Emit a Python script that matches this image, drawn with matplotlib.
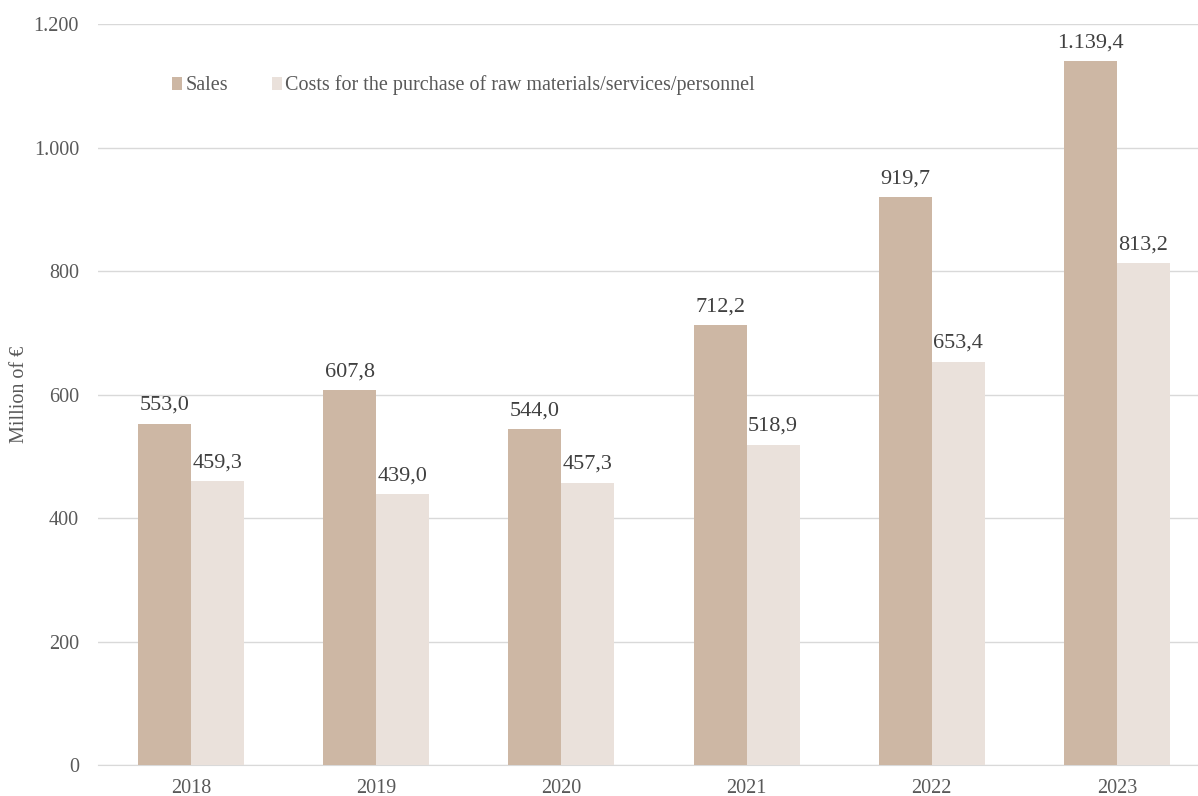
import matplotlib.pyplot as plt
import numpy as np

# dados (milhões de euros)
anos = ['2018', '2019', '2020', '2021', '2022', '2023']
vendas = [553.0, 607.8, 544.0, 712.2, 919.7, 1139.4]
custos = [459.3, 439.0, 457.3, 518.9, 653.4, 813.2]

cor_vendas = '#CDB7A4'
cor_custos = '#EAE1DB'
cor_texto = '#595959'

plt.rcParams['font.family'] = ['Liberation Serif', 'DejaVu Serif']

def fmt(v):
    # formato europeu: 1.139,4
    s = '{:,.1f}'.format(v)
    return s.replace(',', 'X').replace('.', ',').replace('X', '.')

fig = plt.figure(figsize=(11.98, 7.96), dpi=100)
ax = fig.add_axes([0.0822, 0.0389, 0.9274, 0.9309])

x = np.arange(len(anos))
w = 0.286
b1 = ax.bar(x - w / 2, vendas, w, color=cor_vendas, label='Sales', zorder=3)
b2 = ax.bar(x + w / 2, custos, w, color=cor_custos,
            label='Costs for the purchase of raw materials/services/personnel', zorder=3)

for barras, vals in ((b1, vendas), (b2, custos)):
    for b, v in zip(barras, vals):
        ax.text(b.get_x() + b.get_width() / 2, v + 14, fmt(v), ha='center', va='bottom',
                fontsize=16, color='#404040')

ax.set_xlim(-0.5, 5.5)
ax.set_ylim(0, 1200)
ax.set_yticks(range(0, 1201, 200))
ax.set_yticklabels([fmt(t)[:-2] for t in range(0, 1201, 200)])
ax.set_xticks(x)
ax.set_xticklabels(anos)
ax.tick_params(axis='both', length=0, labelsize=14.5, labelcolor=cor_texto)
ax.tick_params(axis='y', pad=14)
ax.tick_params(axis='x', pad=10)
ax.grid(axis='y', color='#D9D9D9', linewidth=1, zorder=0)
for lado in ['top', 'right', 'left']:
    ax.spines[lado].set_visible(False)
ax.spines['bottom'].set_color('#D9D9D9')

ax.set_ylabel('Million of €', fontsize=14.5, color=cor_texto, labelpad=3)

ax.legend(loc='upper left', bbox_to_anchor=(0.050, 0.955), ncol=2, frameon=False,
          fontsize=14.5, labelcolor=cor_texto, handlelength=0.5, handleheight=0.6,
          handletextpad=0.15, columnspacing=2.2)

plt.savefig('out.png', dpi=100)
